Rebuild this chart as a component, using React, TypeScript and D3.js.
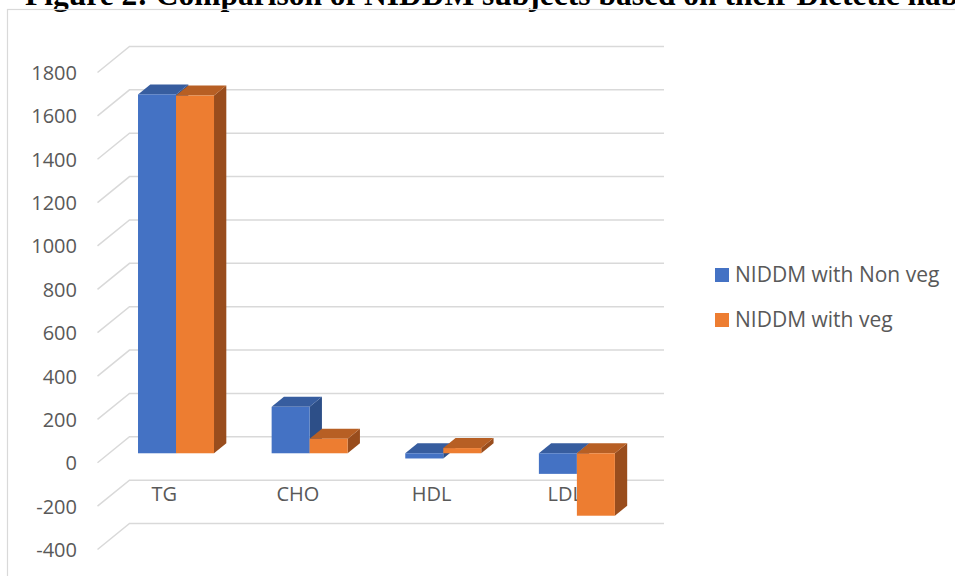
import React from 'react';
import * as d3 from 'd3';

const categories = ['TG', 'CHO', 'HDL', 'LDL'];
const seriesNames = ['NIDDM with Non veg', 'NIDDM with veg'];
const nonVegValues = [1655, 214, -24, -95];
const vegValues = [1650, 67, 24, -288];
const yTickValues = [-400, -200, 0, 200, 400, 600, 800, 1000, 1200, 1400, 1600, 1800];
const titleText = 'Figure 2: Comparison of NIDDM subjects based on their Dietetic habit';

const W = 955;
const H = 576;
const seriesColors = [
  { front: '#4472C4', top: '#375D9F', side: '#2D4F88' },
  { front: '#ED7D31', top: '#B75F24', side: '#994D1D' },
];
const TEXT = '#595959';
const GRID = '#D9D9D9';
const FONT = '"Open Sans", "Liberation Sans", sans-serif';

// back wall geometry
const wallLeft = 129.5;
const wallRight = 664;
const depthDx = 32; // front edge offset to the left
const depthDy = 26; // front edge offset downward
const barFrontDx = 20.3;
const barFrontDy = 16.5;
const barDepthDx = 12.3;
const barDepthDy = 10;
const barWidth = 38;

export default function App() {
  const y = d3.scaleLinear().domain([-400, 1800]).range([523.5, 46.5]);
  const x = d3.scaleBand().domain(categories).range([wallLeft, wallRight]).padding(0);
  const series = [nonVegValues, vegValues];

  const bars: React.ReactNode[] = [];
  categories.forEach((c, ci) => {
    const center = (x(c) as number) + x.bandwidth() / 2 - barFrontDx;
    series.forEach((vals, si) => {
      const v = vals[ci];
      const x0 = center - barWidth + si * barWidth;
      const x1 = x0 + barWidth;
      const yZero = y(0) + barFrontDy;
      const yVal = y(v) + barFrontDy;
      const top = Math.min(yZero, yVal);
      const bottom = Math.max(yZero, yVal);
      const col = seriesColors[si];
      const topPts = [
        [x0, top], [x0 + barDepthDx, top - barDepthDy], [x1 + barDepthDx, top - barDepthDy], [x1, top],
      ].map((p) => p.join(',')).join(' ');
      const sidePts = [
        [x1, top], [x1 + barDepthDx, top - barDepthDy], [x1 + barDepthDx, bottom - barDepthDy], [x1, bottom],
      ].map((p) => p.join(',')).join(' ');
      bars.push(
        <g key={`${c}-${si}`}>
          <polygon points={sidePts} fill={col.side} />
          <polygon points={topPts} fill={col.top} />
          <rect x={x0} y={top} width={barWidth} height={bottom - top} fill={col.front} />
        </g>
      );
    });
  });

  return (
    <svg width={W} height={H} style={{ position: 'absolute', left: 0, top: 0, background: '#fff' }}>
      <rect x={0} y={0} width={W} height={H} fill="#fff" />
      <text x={25} y={4.5} fontFamily='"Liberation Serif", "Times New Roman", serif' fontWeight="bold" fontSize={31.5} fill="#000">
        {titleText}
      </text>
      <rect x={7.5} y={9.5} width={1000} height={700} fill="none" stroke={GRID} strokeWidth={1.2} />

      {yTickValues.map((t) => {
        const yb = y(t);
        const yf = yb + depthDy;
        return (
          <g key={t}>
            <polyline
              points={`${wallLeft - depthDx},${yf} ${wallLeft},${yb} ${wallRight},${yb}`}
              fill="none"
              stroke={GRID}
              strokeWidth={1.5}
            />
            <text x={77} y={yf} textAnchor="end" dominantBaseline="central" fontFamily={FONT} fontSize={20} fill={TEXT}>
              {t}
            </text>
          </g>
        );
      })}

      {categories.map((c) => (
        <text
          key={c}
          x={(x(c) as number) + x.bandwidth() / 2 - depthDx}
          y={500.5}
          textAnchor="middle"
          fontFamily={FONT}
          fontSize={20}
          fill={TEXT}
        >
          {c}
        </text>
      ))}

      {bars}

      {seriesNames.map((name, i) => (
        <g key={name}>
          <rect x={715} y={268 + i * 45} width={14} height={14} fill={seriesColors[i].front} />
          <text x={735} y={282 + i * 45} fontFamily={FONT} fontSize={21} fill={TEXT}>
            {name}
          </text>
        </g>
      ))}
    </svg>
  );
}
